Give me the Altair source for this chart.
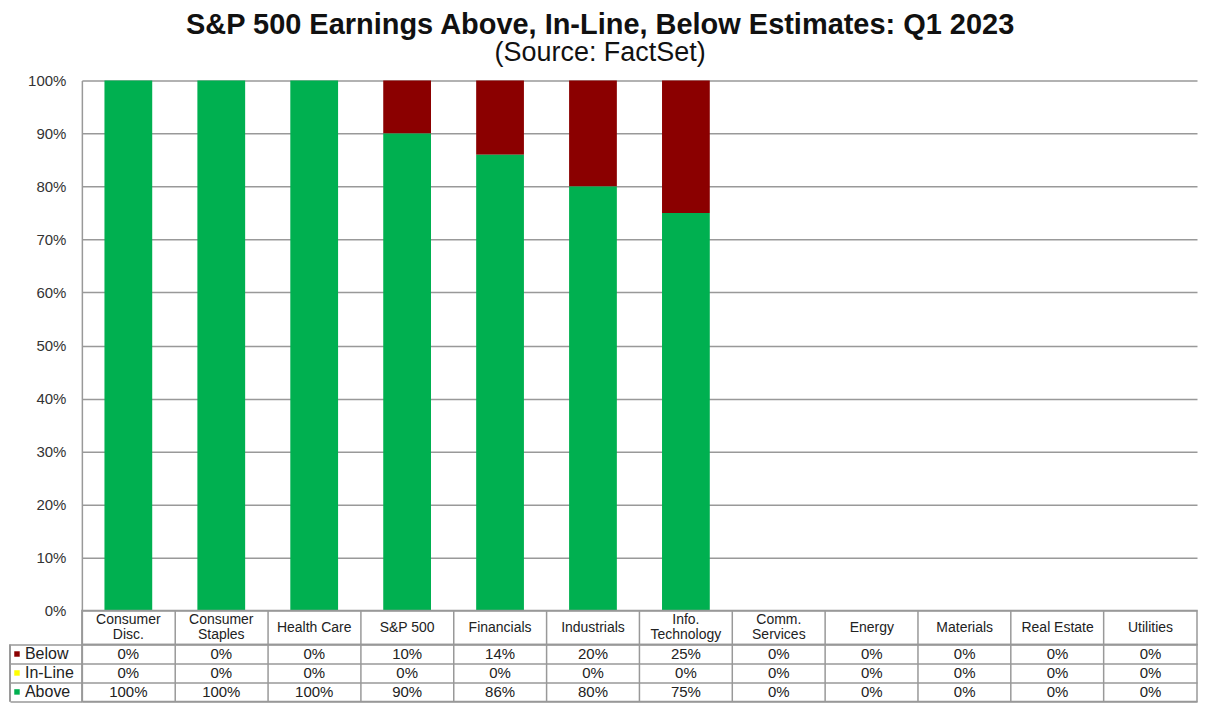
import altair as alt
import pandas as pd

categories = ["Consumer Disc.", "Consumer Staples", "Health Care", "S&P 500", "Financials",
              "Industrials", "Info. Technology", "Comm. Services", "Energy", "Materials",
              "Real Estate", "Utilities"]
header_labels = ["Consumer\nDisc.", "Consumer\nStaples", "Health Care", "S&P 500", "Financials",
                 "Industrials", "Info.\nTechnology", "Comm.\nServices", "Energy", "Materials",
                 "Real Estate", "Utilities"]
below = [0, 0, 0, 10, 14, 20, 25, 0, 0, 0, 0, 0]
inline = [0, 0, 0, 0, 0, 0, 0, 0, 0, 0, 0, 0]
above = [100, 100, 100, 90, 86, 80, 75, 0, 0, 0, 0, 0]
series = ["Below", "In-Line", "Above"]
series_colors = ["#8B0000", "#FFFF00", "#00B050"]
stack_order = {"Above": 0, "In-Line": 1, "Below": 2}

FONT = "Liberation Sans"
GRID = "#999999"
TXT = "#222222"
W = 1117
LEG_W = 72
LINE_H = 15

rows = []
for s, vals in zip(series, [below, inline, above]):
    for c, v in zip(categories, vals):
        rows.append({"Category": c, "Series": s, "Value": v, "Text": f"{v}%", "ord": stack_order[s]})
df = pd.DataFrame(rows)
hdf = pd.DataFrame({"Category": categories, "Label": header_labels})
ldf = pd.DataFrame({"Series": series})

color_scale = alt.Scale(domain=series, range=series_colors)

bars = alt.Chart(df).mark_bar().encode(
    x=alt.X("Category:N", sort=categories,
            scale=alt.Scale(type="band", paddingInner=0.486, paddingOuter=0.243), axis=None),
    y=alt.Y("Value:Q", stack="zero", scale=alt.Scale(domain=[0, 100]),
            axis=alt.Axis(values=list(range(0, 101, 10)), labelExpr="datum.value + '%'",
                          grid=True, gridColor=GRID, gridWidth=1.5, ticks=False,
                          domainColor=GRID, domainWidth=1.5, labelPadding=16,
                          labelFont=FONT, labelFontSize=15, labelColor="#333333", title=None)),
    color=alt.Color("Series:N", scale=color_scale, legend=None),
    order=alt.Order("ord:Q"),
).properties(width=W, height=531, view=alt.ViewBackground(stroke="transparent"))

def band0():
    return alt.Scale(type="band", paddingInner=0, paddingOuter=0)

def xgrid():
    return alt.Axis(grid=True, bandPosition=0, labels=False, ticks=False, domain=False,
                    title=None, gridColor=GRID, gridWidth=1.5)

header = alt.Chart(hdf).transform_calculate(
    dy=f"-(length(split(datum.Label, '\\n')) - 1) * {LINE_H / 2}"
).mark_text(font=FONT, fontSize=14, color=TXT, lineBreak="\n", lineHeight=LINE_H).encode(
    x=alt.X("Category:N", sort=categories, scale=band0(), axis=xgrid()),
    yOffset=alt.YOffset("dy:Q", scale=None),
    text="Label:N",
).properties(width=W, height=34,
             view=alt.ViewBackground(stroke=GRID, strokeWidth=1.5))

cells = alt.Chart(df).mark_text(font=FONT, fontSize=15, color=TXT).encode(
    x=alt.X("Category:N", sort=categories, scale=band0(), axis=xgrid()),
    y=alt.Y("Series:N", sort=series, scale=band0(),
            axis=alt.Axis(grid=True, bandPosition=1, tickExtra=True, tickSize=LEG_W,
                          tickColor=GRID, tickWidth=1.5, labels=False, domain=False,
                          title=None, gridColor=GRID, gridWidth=1.5)),
    text="Text:N",
)
leg_sq = alt.Chart(ldf).mark_square(size=30, opacity=1).encode(
    x=alt.value(-65),
    y=alt.Y("Series:N", sort=series),
    color=alt.Color("Series:N", scale=color_scale, legend=None),
)
leg_txt = alt.Chart(ldf).mark_text(font=FONT, fontSize=16, color=TXT, align="left").encode(
    x=alt.value(-57),
    y=alt.Y("Series:N", sort=series),
    text="Series:N",
)
leg_edge = alt.Chart(ldf).mark_rule(color=GRID, strokeWidth=1.5).encode(
    x=alt.value(-LEG_W), y=alt.value(0), y2=alt.value(57)
)
table = alt.layer(cells, leg_sq, leg_txt, leg_edge).properties(
    width=W, height=57, view=alt.ViewBackground(stroke=GRID, strokeWidth=1.5))

chart = alt.vconcat(bars, header, table, spacing=0, bounds="flush").properties(
    title=alt.TitleParams(
        text="S&P 500 Earnings Above, In-Line, Below Estimates: Q1 2023",
        subtitle="(Source: FactSet)",
        font=FONT, fontSize=29, fontWeight="bold", color="#111111",
        subtitleFont=FONT, subtitleFontSize=27, subtitleColor="#111111",
        subtitlePadding=0, anchor="middle", offset=7, dx=-3,
    ),
    padding={"left": 0, "right": 0, "top": 2, "bottom": 0},
).configure_view(stroke="transparent")

chart.save("out.html", embed_options={"renderer": "svg", "actions": False})
